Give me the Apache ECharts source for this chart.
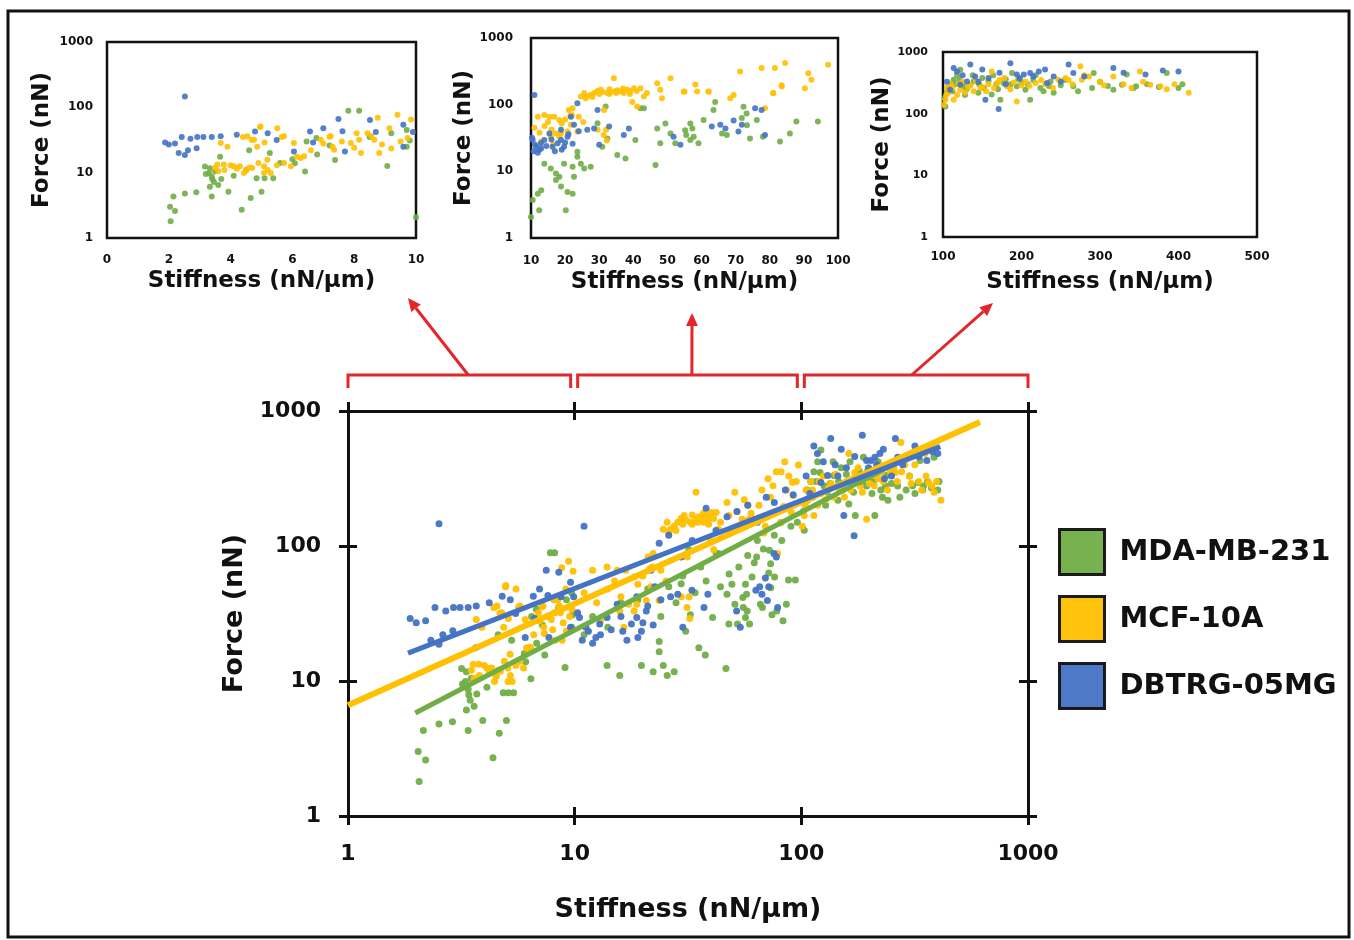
<!DOCTYPE html>
<html><head><meta charset="utf-8">
<script src="https://cdn.jsdelivr.net/npm/echarts@6/dist/echarts.min.js"></script>
<style>html,body{margin:0;padding:0;background:#fff}#chart{width:1354px;height:940px}</style>
</head><body><div id="chart"></div>
<script>
const FONT = 'DejaVu Sans';
const INK = '#111';
const RED = '#e3262b';
const seriesNames = ['MDA-MB-231', 'MCF-10A', 'DBTRG-05MG'];
const seriesColors = ['#70AD47', '#FFC000', '#4472C4'];

// [stiffness (nN/um), force (nN)] — points shown in the main plot and in the matching inset
const mdaPts = [
  [2.06,1.8],[2.04,3.0],[2.2,2.6],[2.15,4.3],[2.52,4.8],[2.89,5.0],[3.39,4.3],[3.17,12.4],[3.33,11.7],[3.39,8.7],
  [3.41,7.9],[3.33,6.1],[3.3,9.9],[3.46,7.2],[3.66,17.6],[3.93,5.1],[4.36,2.7],[4.65,4.1],[5.0,5.1],[4.84,8.2],
  [5.1,8.2],[5.38,8.2],[5.27,20],[6.08,13.9],[6.41,10.4],[6.46,30],[6.78,34],[7.38,15.6],[7.81,89],[8.16,89],
  [9.07,12.6],[9.7,45],[9.8,31],[9.7,25],[4.6,22],[5.6,14],[7.2,26],
  [3.2,9.5],[3.5,10.5],[3.6,6.5],[3.7,8],[4.1,9],[4.5,11],[6,16],[6.8,19],[8.5,35],[9.2,40],
  [13.9,13],[15.8,11],[19.7,13],[22.2,11.7],[23.6,16.5],[24.6,13],[23.6,19.6],
  [25.6,11],[27.5,11.7],[29.5,52.5],[30.9,23.4],[31.9,94],[32.4,31],[35.3,17.6],[37.7,15.6],[40.6,29.5],[42.1,88],
  [43.1,88],[46.5,12.4],[47,44],[47.9,26.4],[49.4,52],[50.9,37],[52.3,26.4],[55.2,41.5],[56.7,52],[57.7,33],
  [59.1,26.4],[60.6,59],[63.5,83],[64,110],[66,37],[67.4,35],[71.8,63],[72.3,93],[73.2,74],[74.2,31],
  [76.2,59],[78,33],[83,28],[85.9,37],[87.8,56],[94.1,56],[56.7,29.5],[57.3,44],[55.5,35],[73.3,49],
  [105,218],[103,131],[113.6,355],[122,515],[126,278],[139,333],[145,218],[162,205],[173,168],[177,315],
  [188,455],[194,278],[205,245],[211,168],[224,260],[237,333],[241,218],[266,278],[290,260],[292,455],
  [317,245],[328,295],[334,430],[343,260],[346,278],[385,455],[400,260],[110,300],[118,420],[130,250],
  [150,380],[168,300],[200,320],[215,350],[250,290],
  [102,180],[106,260],[112,230],[116,300],[121,350],[128,200],[134,290],[138,420],[146,300],[152,260],
  [158,340],[164,420],[170,250],[180,360],[186,300],[196,360],[208,300],[218,420],[228,230],[235,280],
  [255,350],[272,230],[300,330],[310,280],[360,300],[375,270],[405,300]
];
// points that appear only in the 10–100 inset
const mdaInsetOnly = [
  [10,2.07],[10.5,3.7],[12,4.6],[13,5.2],[12.4,2.6],[18.8,5.9],[20.2,2.6],[20.7,4.9],[22.2,4.6],[17.3,7.4],
  [18.3,8.3],[22.6,8.3],[17.3,9.3]
];
// points that appear only in the main plot
const mdaMainOnly = [
  [11,22],[12,30],[14,25],[16,38],[19,40],[21,48],[24,30],[26,50],[28,38],[30,60],[34,45],[36,70],[38,55],
  [44,50],[48,62],[53,70],[58,85],[62,75],[68,95],[76,120],[82,110],[90,140],[96,150]
];

const mcfPts = [
  [3.68,28.5],[3.9,25],[3.57,13.3],[3.78,13.3],[4.1,12.5],[4.3,12.5],[4.43,9.9],[4.54,36],[4.76,32],[4.97,51],
  [4.86,25],[5.08,12.5],[5.19,15.8],[5.08,9.9],[5.3,9.9],[5.51,48],[5.73,36],[5.73,14],[5.95,12.5],[6.05,28.5],
  [6.27,16.7],[6.38,17.8],[6.92,32],[7.24,36],[7.3,25],[7.35,22.5],[7.89,28.5],[8.16,32],[8.22,20],[8.43,40],
  [8.65,32],[8.76,69],[8.81,20],[9.14,48],[9.4,77],[9.73,34],[9.84,65],[4.68,31.7],[5.1,29],[5.65,35],
  [6.14,17.6],[7.2,35.5],[8.08,40],[8.56,36],[9.2,23.5],[4.4,35],[4.95,50],[4.0,13],[4.6,12],
  [3.6,10.5],[3.8,11],[4.2,11.5],[4.5,10.8],[4.7,11.8],[5.2,11],[5.5,13],[3.5,12],[4.9,14],[6.6,22],
  [7.0,28],[7.6,30],[8.0,24],[8.9,27],[9.5,30],
  [12,66],[13.9,70],[15.4,66],[16.8,66],[18.3,59],[17.3,37],[15.8,33],[18.8,37],[20.7,39.5],[21.7,50],
  [22.2,88],[23.6,39.5],[24.6,133],[25.6,150],[26.5,133],[28.5,150],[30.4,168],[32.4,150],[34.3,158],[36.3,158],
  [38.2,168],[40.2,177],[42.1,177],[43.1,133],[34.3,250],[31.4,83],[29.5,42],[41.1,94],[47,210],[47.9,168],
  [48.4,125],[50.9,250],[54.8,158],[58.2,200],[58.7,158],[62,158],[68.4,125],[69.4,140],[71.3,315],[77.6,355],
  [78.6,88],[81.5,355],[81,150],[83.5,187],[84.5,420],[90.3,177],[91.3,297],[92.2,237],[97.1,398],
  [27.5,140],[29.5,160],[33,145],[35.3,165],[37.2,150],[39.2,160],[21.1,83],[21.5,68],[24,66],[25.3,55],
  [31.3,35],[32.2,29],[32,42],[39.7,110],[18.3,33],[55,156],[62.1,156],[83.5,196],[81,148],
  [26,125],[28,130],[30,145],[31,155],[33,170],[35,150],[37,175],[39,145],[41,160],[44,150],
  [11,45],[12.5,38],[14,48],[15,55],[16,42],[19,52],[20,60],[22,70],[13,28],[16.5,25],
  [103,168],[107,218],[113.6,168],[122,245],[139,230],[147.5,260],[162,485],[169,315],[181.5,278],[194,158],
  [205,333],[218,315],[247,355],[256,380],[275,585],[277,355],[286,400],[317,400],[351,485],[364,295],
  [377,278],[413,218],[101,140],[105,260],[110,300],[118,200],[125,330],[132,270],[155,230],[158,300],
  [172,350],[186,250],[200,290],[230,300],[260,350],[300,330],[340,260],[395,300],
  [104,200],[112,260],[120,300],[128,220],[135,290],[142,340],[150,270],[165,260],[178,380],[190,320],
  [210,280],[225,350],[240,260],[265,300],[280,420],[305,290],[330,300],[355,330],[385,250]
];
const mcfInsetOnly = [];
const mcfMainOnly = [[52,180],[56,220],[60,175],[65,200],[67,260],[73,230],[75,280],[86,260],[88,330],[95,300]];

const dbtPts = [
  [1.88,29],[2.2,28],[2.42,35],[2.52,146],[2.32,20],[2.52,18.7],[2.62,22],[2.9,23.6],[2.92,35],[3.12,35],
  [3.39,35],[3.68,36],[4.79,42.5],[6.57,42.5],[6.67,29],[6.05,21],[7.49,66],[7.62,43],[7.7,21],[8.51,64],
  [8.7,42],[9.59,54],[9.59,25],[9.9,42],[5.49,31.6],[2.0,27],[2.7,33],[4.2,38],[5.2,40],[7.0,48],
  [11,140],[10.5,29.5],[11.5,23.4],[12.4,21],[12.9,26.4],[13.9,29.5],[15.4,37],[16.3,23.4],[17.8,26.4],[18.8,29.5],
  [19.7,23.4],[20.7,33],[18.8,42],[21.7,66],[22.6,50],[23.6,105],[22.2,26],[26.5,42],[28.5,44],[29.5,83],
  [30,25],[32.9,47],[37.2,35],[38.7,44],[51.8,33],[53.8,25],[63,47],[65.5,50],[67,44],[69.4,58],
  [70.8,39.5],[71.8,50],[75.7,88],[77.6,83],[78.6,35],[10.8,20],[11.2,25],[12,19],[13,22],[14.5,24],
  [16,30],[17,20],[19,21],[20,27],[10.3,32],[24,40],[21,36],
  [113.6,550],[117.8,485],[134.8,625],[130.6,333],[141,400],[154,168],[158,380],[170.9,119],[185.8,660],[194,430],
  [203,430],[211,455],[222,485],[232.5,315],[241,400],[260,625],[266,455],[317,550],[358,430],[400,485],
  [122,295],[109,245],[105,330],[145,330],[180,300],[215,400],[250,330],[125,420],[150,520],[172,460],
  [198,380],[230,520],[280,400],[330,460],[380,500]
];
const dbtInsetOnly = [];
const dbtMainOnly = [[26,120],[33,110],[38,190],[42,130],[47,165],[52,180],[58,200],[64,150],[70,230],[76,210],[85,260],[92,240]];

const sharedPts = [mdaPts, mcfPts, dbtPts];
const insetOnlyPts = [mdaInsetOnly, mcfInsetOnly, dbtInsetOnly];
const mainOnlyPts = [mdaMainOnly, mcfMainOnly, dbtMainOnly];

// fitted power-law trend lines: [[x start, F start], [x end, F end]]
const fitMDA = [[1.98, 5.8], [410, 610]];
const fitMCF = [[1, 6.6], [614, 830]];
const fitDBT = [[1.84, 16.1], [410, 545]];
const fits = [fitMDA, fitMCF, fitDBT];

// axis ranges
const mainRange = [1, 1000];
const insetX = [[0, 10, 2], [10, 100, 10], [100, 500, 100]];
const forceRange = [1, 1000];
const xTitle = 'Stiffness (nN/μm)';
const yTitle = 'Force (nN)';

const chart = echarts.init(document.getElementById('chart'), null, {renderer: 'canvas'});

const insetGrids = [
  {left: 107, top: 42, width: 309, height: 196, ylm: 14, xlm: 16, xng: 32, yng: 53},
  {left: 531, top: 38, width: 307, height: 200, ylm: 18, xlm: 17, xng: 33, yng: 54},
  {left: 943, top: 52, width: 314, height: 185, ylm: 15, xlm: 14, xng: 34, yng: 48}
];

const grid = [{left: 348, top: 411, width: 680, height: 405}].concat(
  insetGrids.map(g => ({left: g.left, top: g.top, width: g.width, height: g.height,
    show: true, borderColor: INK, borderWidth: 2.5, backgroundColor: 'transparent'})));

const plain = v => String(v);
const tickStyle = {color: INK, width: 3};
function mainAxis(dim, position, inside, primary) {
  const a = {
    gridIndex: 0, type: 'log', logBase: 10, min: mainRange[0], max: mainRange[1], position: position,
    axisLine: {show: !inside, onZero: false, lineStyle: {color: INK, width: 3}},
    axisTick: {show: true, inside: inside, length: 9, lineStyle: tickStyle},
    axisLabel: {show: primary, margin: 27, formatter: plain, fontFamily: FONT, fontWeight: 'bold', fontSize: 22, color: INK},
    splitLine: {show: false}
  };
  if (primary) {
    a.name = dim === 'x' ? xTitle : yTitle;
    a.nameLocation = 'middle';
    a.nameGap = dim === 'x' ? 80 : 98;
    a.nameTextStyle = {fontFamily: FONT, fontWeight: 'bold', fontSize: 27, color: INK};
  }
  return a;
}

const xAxis = [
  mainAxis('x', 'bottom', false, true), mainAxis('x', 'bottom', true, false),
  mainAxis('x', 'top', false, false), mainAxis('x', 'top', true, false)
];
const yAxis = [
  mainAxis('y', 'left', false, true), mainAxis('y', 'left', true, false),
  mainAxis('y', 'right', false, false), mainAxis('y', 'right', true, false)
];
insetGrids.forEach((g, i) => {
  xAxis.push({
    gridIndex: i + 1, type: 'value', min: insetX[i][0], max: insetX[i][1], interval: insetX[i][2],
    axisLine: {show: false}, axisTick: {show: false}, splitLine: {show: false},
    axisLabel: {margin: g.xlm, formatter: plain, fontFamily: FONT, fontWeight: 'bold', fontSize: 12, color: INK},
    name: xTitle, nameLocation: 'middle', nameGap: g.xng,
    nameTextStyle: {fontFamily: FONT, fontWeight: 'bold', fontSize: 23, color: INK}
  });
  yAxis.push({
    gridIndex: i + 1, type: 'log', logBase: 10, min: forceRange[0], max: forceRange[1],
    axisLine: {show: false}, axisTick: {show: false}, splitLine: {show: false},
    axisLabel: {margin: g.ylm, formatter: plain, fontFamily: FONT, fontWeight: 'bold', fontSize: i === 2 ? 11 : 12, color: INK},
    name: yTitle, nameLocation: 'middle', nameGap: g.yng,
    nameTextStyle: {fontFamily: FONT, fontWeight: 'bold', fontSize: 23, color: INK}
  });
});

const series = [];
sharedPts.forEach((pts, k) => {
  series.push({
    name: seriesNames[k], type: 'scatter', xAxisIndex: 0, yAxisIndex: 0,
    data: pts.concat(mainOnlyPts[k]), symbolSize: 7,
    itemStyle: {color: seriesColors[k], opacity: 0.95}, z: 2, silent: true
  });
});
fits.forEach((f, k) => {
  series.push({
    name: seriesNames[k] + ' fit', type: 'line', xAxisIndex: 0, yAxisIndex: 0, data: f,
    symbol: 'none', lineStyle: {color: seriesColors[k], width: k === 1 ? 6 : 5}, z: 3, silent: true
  });
});
insetGrids.forEach((g, i) => {
  const lo = insetX[i][0], hi = insetX[i][1];
  sharedPts.forEach((pts, k) => {
    series.push({
      name: seriesNames[k], type: 'scatter', xAxisIndex: 4 + i, yAxisIndex: 4 + i,
      data: pts.concat(insetOnlyPts[k]).filter(p => p[0] >= lo && p[0] <= hi), symbolSize: 6,
      itemStyle: {color: seriesColors[k], opacity: 0.9}, z: 2, silent: true
    });
  });
});

chart.setOption({
  backgroundColor: '#fff',
  animation: false,
  grid: grid,
  xAxis: xAxis,
  yAxis: yAxis,
  legend: {
    orient: 'vertical', left: 1053, top: 523, itemWidth: 45, itemHeight: 45, itemGap: 19,
    selectedMode: false,
    data: seriesNames.map((n, k) => ({name: n, icon: 'rect',
      itemStyle: {color: seriesColors[k], borderColor: INK, borderWidth: 3}})),
    textStyle: {fontFamily: FONT, fontWeight: 'bold', fontSize: 29, color: INK, padding: [0, 0, 0, 10]}
  },
  series: series
});

// annotations: outer frame, red brackets over each decade with arrows to insets
const px = v => chart.convertToPixel({xAxisIndex: 0}, v);
const py = v => chart.convertToPixel({yAxisIndex: 0}, v);
const yTop = py(mainRange[1]);
const brY = yTop - 36, brFoot = yTop - 23;
const decades = [[1, 10], [10, 100], [100, 1000]];
const arrowTips = [[408, 298], [692, 313], [993, 303]];
const arrowBaseFrac = [0.54, 0.52, 0.48];
const gfx = [{
  type: 'rect', shape: {x: 8, y: 11, width: 1341, height: 926},
  style: {fill: 'none', stroke: INK, lineWidth: 3}, silent: true
}];
decades.forEach((d, i) => {
  const x1 = px(d[0]) + (i === 0 ? 0 : 3);
  const x2 = px(d[1]) - (i === 2 ? 0 : 4);
  gfx.push({type: 'polyline', shape: {points: [[x1, brFoot], [x1, brY], [x2, brY], [x2, brFoot]]},
    style: {fill: 'none', stroke: RED, lineWidth: 3}, silent: true});
  const bx = x1 + (x2 - x1) * arrowBaseFrac[i], by = brY;
  const tx = arrowTips[i][0], ty = arrowTips[i][1];
  const dx = tx - bx, dy = ty - by, L = Math.hypot(dx, dy), ux = dx / L, uy = dy / L;
  const hl = 13, hw = 6;
  const hx = tx - ux * hl, hy = ty - uy * hl;
  gfx.push({type: 'line', shape: {x1: bx, y1: by, x2: hx, y2: hy},
    style: {stroke: RED, lineWidth: 3}, silent: true});
  gfx.push({type: 'polygon', shape: {points: [[tx, ty], [hx - uy * hw, hy + ux * hw], [hx + uy * hw, hy - ux * hw]]},
    style: {fill: RED}, silent: true});
});
chart.setOption({graphic: gfx});
</script></body></html>
